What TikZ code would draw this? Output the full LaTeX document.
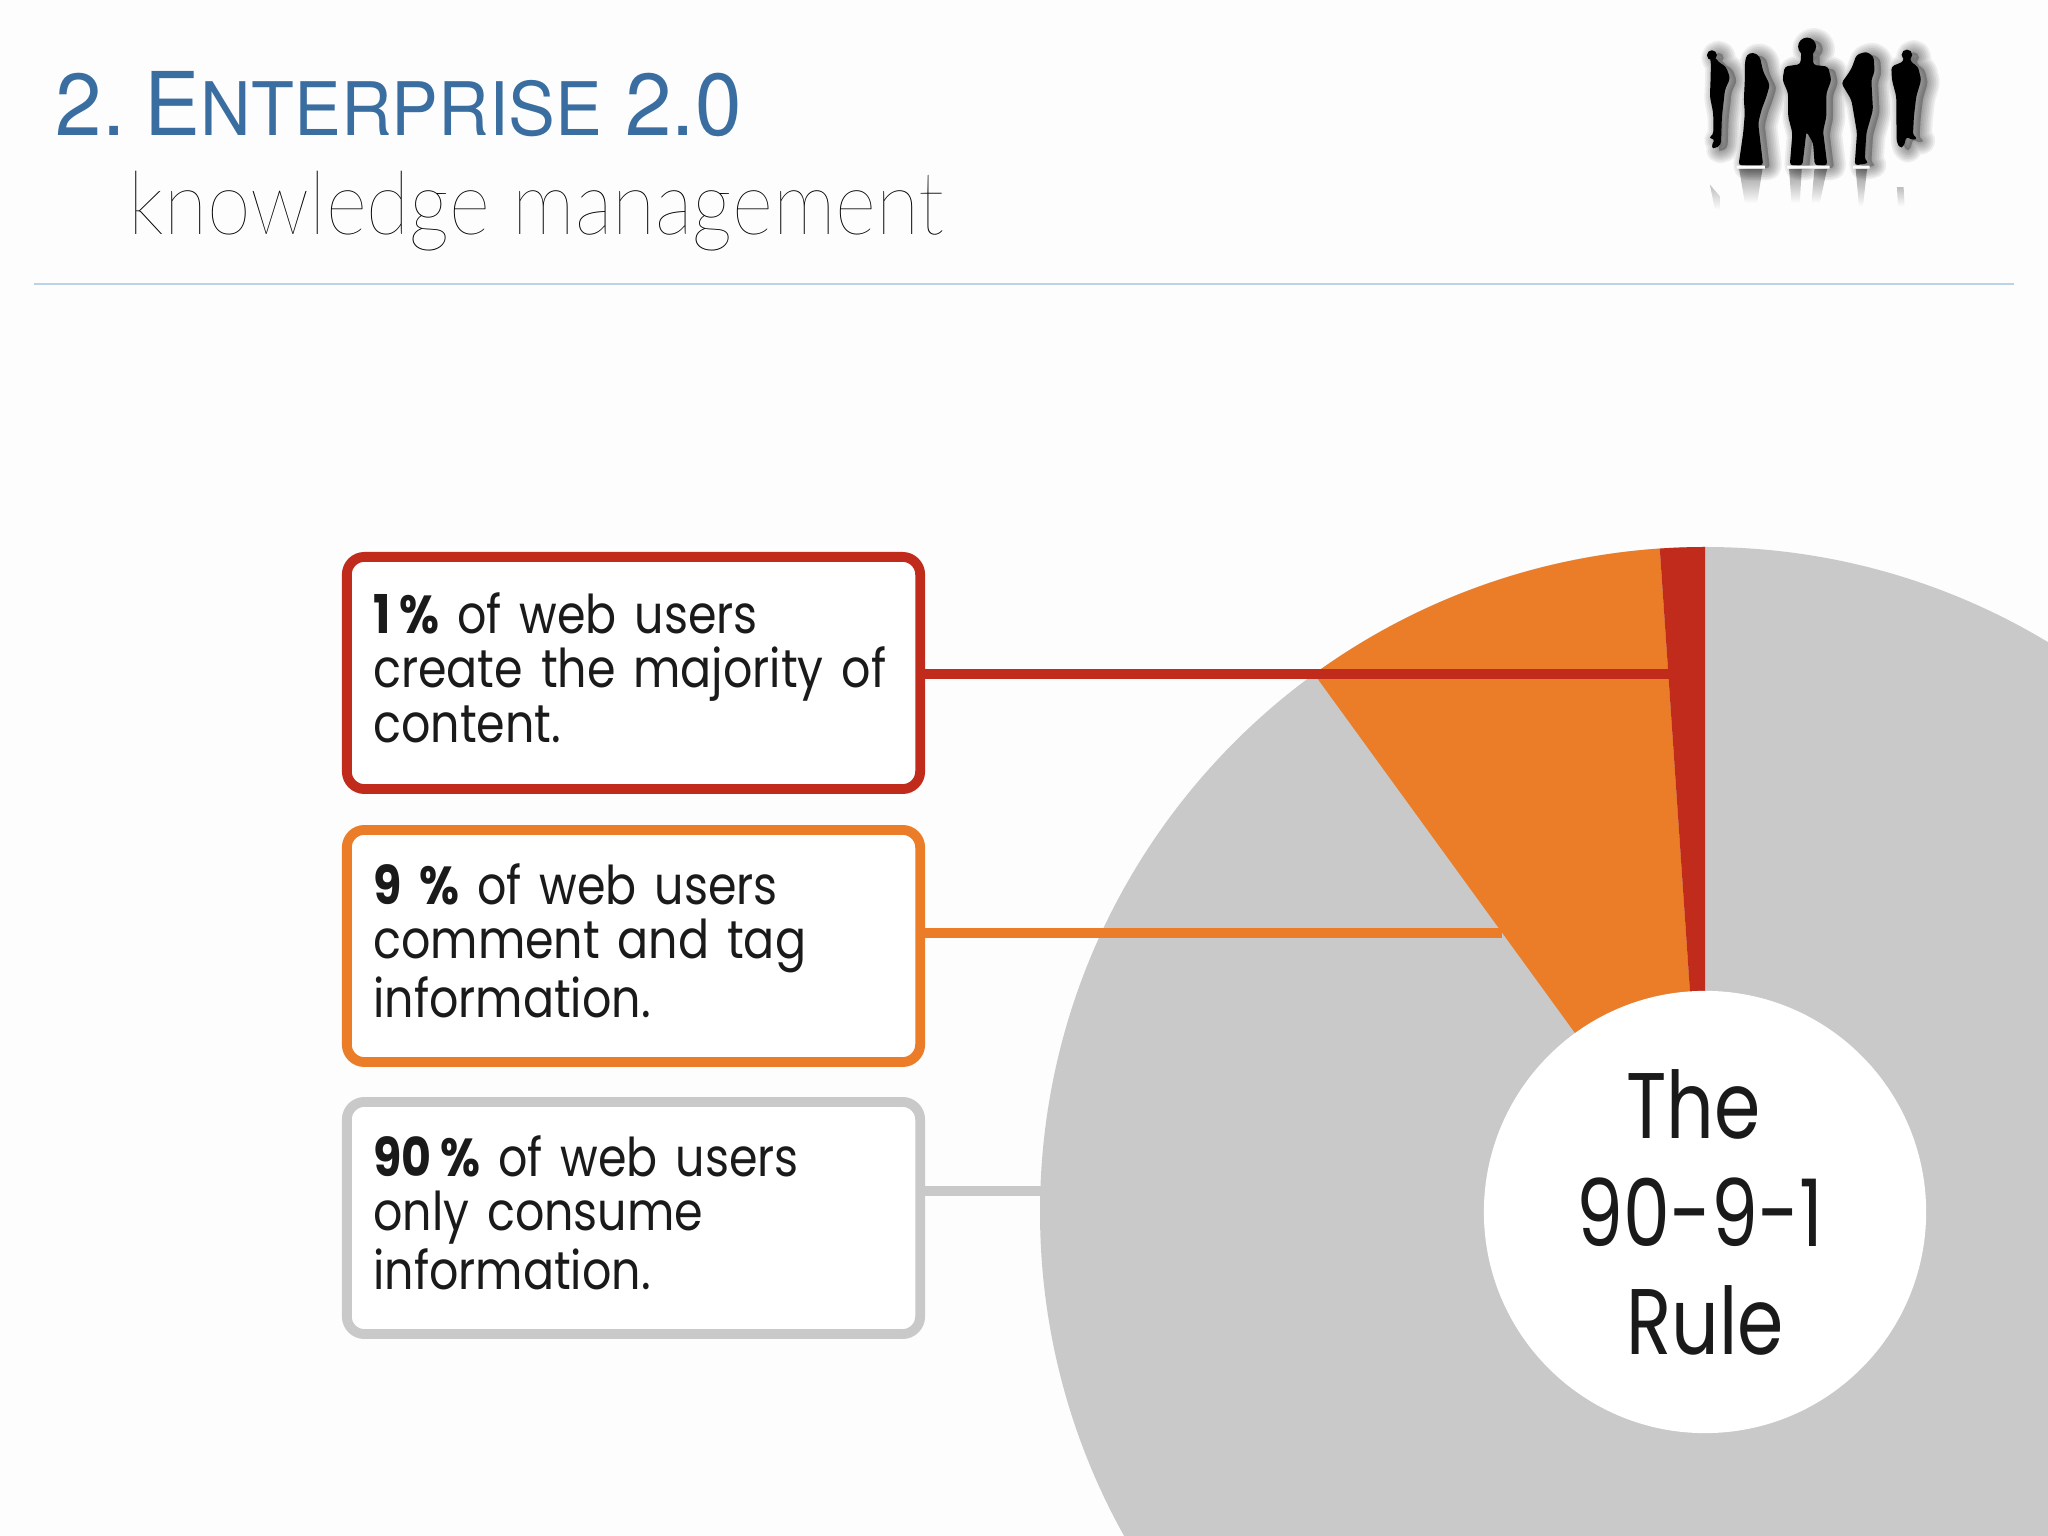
\documentclass[tikz,border=0pt]{standalone}
\usepackage{fontspec}
\usetikzlibrary{fadings}
\setmainfont{Poppins}[FakeStretch=0.86]
\newfontfamily\hubfont{Poppins}[FakeStretch=0.8]
\newfontfamily\headfont{TeX Gyre Heros}[FakeStretch=0.95]
\newfontfamily\thinfont{Lato Thin}[FakeStretch=0.9]
\definecolor{slidebg}{HTML}{FDFDFD}
\definecolor{titleblue}{HTML}{3A6EA0}
\definecolor{rulecol}{HTML}{BCD2E6}
\definecolor{piered}{HTML}{C12B1B}
\definecolor{pieorange}{HTML}{EC7D28}
\definecolor{piegray}{HTML}{C9C9CA}
\definecolor{textcol}{HTML}{1A1A1A}
\newcommand{\peopleshape}[1]{
\path[#1, rounded corners=0.9pt, line join=round]
(186,166) circle (15)
(180,172)--(196,172)--(205,186)--(228,200)--(241,235)--(225,270)--(222,300)--(216,350)--(214,410)--(213,435)--(195,447)--(183,442)--(195,418)--(175,415)--(190,405)--(190,340)--(180,290)--(182,240)--(183,190)--cycle
(285,190)--(290,165)--(310,157)--(330,170)--(340,215)--(360,255)--(350,290)--(335,330)--(325,370)--(340,497)--(266,497)--(280,400)--(285,340)--(282,300)--(285,240)--cycle
(472,140) circle (27)
(455,150)--(490,150)--(490,195)--(535,200)--(545,240)--(530,280)--(530,350)--(520,395)--(533,497)--(495,497)--(490,430)--(470,395)--(458,497)--(420,497)--(428,400)--(415,350)--(415,280)--(398,240)--(405,200)--(452,193)--cycle
(608,200)--(620,165)--(650,155)--(672,170)--(675,215)--(665,240)--(670,330)--(650,400)--(645,480)--(658,490)--(615,497)--(622,400)--(612,340)--(605,300)--(575,250)--(600,215)--cycle
(772,165) circle (16)
(762,170)--(782,170)--(782,185)--(805,200)--(815,240)--(800,290)--(793,350)--(790,408)--(805,415)--(790,422)--(770,410)--(763,440)--(750,445)--(741,425)--(740,290)--(727,240)--(725,200)--(762,185)--cycle;
}
\begin{document}
\begin{tikzpicture}[x=0.01cm, y=0.01cm,
textbox/.style={rectangle, rounded corners=5pt, line width=2.8pt, fill=white, minimum width=5.73cm, minimum height=2.32cm, inner xsep=0.26cm, text width=5.2cm, align=left, text=textcol, font=\fontsize{15.2}{15.4}\selectfont},
link/.style={line width=2.6pt},
reflect/.style={fill=black, path fading=south, fill opacity=0.4}]
\useasboundingbox (0,0) rectangle (2048,1536);
\clip (0,0) rectangle (2048,1536);
\fill[slidebg] (0,0) rectangle (2048,1536);

\node[anchor=base west, inner sep=0, text=titleblue, font=\headfont\fontsize{25}{25}\selectfont] (title) at (55,1400) {2.\kern-1pt\ E{\fontsize{21}{21}\selectfont NTERPRISE} 2.0};
\node[anchor=base west, inner sep=0, text=black, font=\thinfont\fontsize{25}{25}\selectfont] (subtitle) at (128,1301) {knowledge management};
\draw[rulecol, line width=0.8pt] (34,1252)--(2014,1252);

\begin{scope}[shift={(1650,1536)}, x=0.00333cm, y=-0.00333cm]
\foreach \w in {7,6,...,1}
{\begin{scope}[shift={(20,8)}]
\peopleshape{fill=black, draw=black, fill opacity=0.04, draw opacity=0.06, line width=\w pt}
\end{scope}}
\peopleshape{fill=black}
\fill[slidebg] (260,498) rectangle (345,507) (412,498) rectangle (540,507) (610,498) rectangle (660,507);
\fill[reflect] (268,508)--(338,508)--(322,610)--(285,610)--cycle;
\fill[reflect] (418,508)--(456,508)--(450,610)--(425,610)--cycle;
\fill[reflect] (494,508)--(532,508)--(510,610)--(485,610)--cycle;
\fill[reflect] (618,508)--(652,508)--(640,620)--(628,620)--cycle;
\fill[reflect, fill opacity=0.25] (180,555)--(210,590)--(210,630)--(195,630)--cycle;
\fill[reflect, fill opacity=0.25] (742,562)--(762,562)--(765,620)--(745,620)--cycle;
\end{scope}

\coordinate (hubcenter) at (1705,324);
\fill[piegray] (hubcenter) circle (665);
\fill[pieorange] (hubcenter)--++(126:665) arc (126:93.9:665)--cycle;
\fill[piered] (hubcenter)--++(93.9:665) arc (93.9:90:665)--cycle;

\node[textbox, draw=piered] (redbox) at (633.5,863) {\textbf{1\,\%} of web users\\create the majority of\\content.\par\vspace{3pt}};
\node[textbox, draw=pieorange] (orangebox) at (633.5,590) {\textbf{9 \%} of web users\\comment and tag\\information.\par\vspace{3pt}};
\node[textbox, draw=piegray] (graybox) at (633.5,318) {\textbf{90\,\%} of web users\\only consume\\information.\par\vspace{3pt}};

\coordinate (redend) at (1672,862);
\coordinate (orangeend) at (1502,603);
\coordinate (grayend) at (1042,345);
\draw[link, piered] (redbox.east |- redend)--(redend);
\draw[link, pieorange] (orangebox.east |- orangeend)--(orangeend);
\draw[link, piegray] (graybox.east |- grayend)--(grayend);

\node[circle, fill=white, minimum size=4.42cm, inner sep=0, align=center, text=textcol, font=\hubfont\fontsize{26.5}{30.7}\selectfont] (hub) at (hubcenter) {The\kern6.7pt\\90-9-1\kern3pt\\Rule};
\end{tikzpicture}
\end{document}
